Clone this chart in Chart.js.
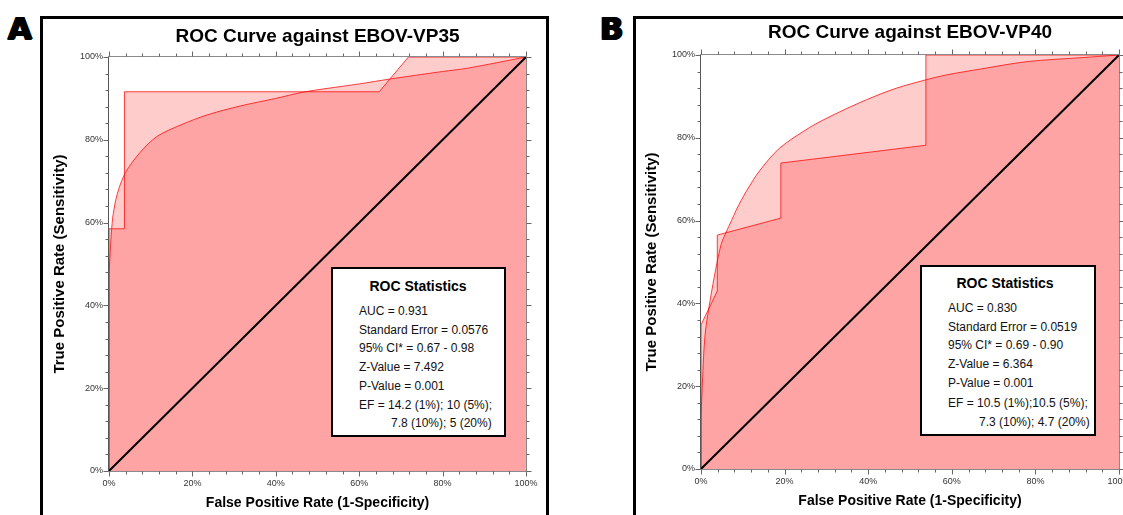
<!DOCTYPE html>
<html><head><meta charset="utf-8">
<script src="https://cdn.jsdelivr.net/npm/chart.js@4.4.1/dist/chart.umd.min.js"></script>
<style>
html,body{margin:0;padding:0;background:#fff;}
body{width:1123px;height:515px;position:relative;overflow:hidden;font-family:"Liberation Sans",Arial,sans-serif;}
canvas{position:absolute;top:0;}
.frame{position:absolute;border:3px solid #000;box-sizing:border-box;}
.letter{position:absolute;font-family:"DejaVu Sans",sans-serif;font-weight:bold;font-size:31px;line-height:32px;color:#000;text-shadow:1px 0 0 #000,2px 0 0 #000,0 1px 0 #000,1px 1px 0 #000;}
.box{position:absolute;border:2px solid #000;background:#fff;box-sizing:border-box;}
.t{position:absolute;font-size:12px;line-height:14px;white-space:nowrap;color:#111;}
.bt{position:absolute;font-size:14px;font-weight:bold;line-height:16px;white-space:nowrap;transform:translateX(-50%);color:#000;}
</style></head>
<body>
<div class="frame" style="left:40px;top:16px;width:509px;height:530px;"></div>
<div class="frame" style="left:633px;top:16px;width:530px;height:530px;"></div>
<div class="letter" style="left:7px;top:12px;">A</div>
<div class="letter" style="left:599px;top:12px;">B</div>
<canvas id="cA" width="560" height="515" style="left:0px;"></canvas>
<canvas id="cB" width="563" height="515" style="left:560px;"></canvas>
<div id="overlay"></div>
<script>
// ---- data ----
const diagX = [0, 100];
const diagY = [0, 100];

const fitA_x = [0, 0, 0.3, 0.6, 1, 2, 3.9, 7.5, 11.5, 17, 23.5, 31.6, 40, 47, 60, 67.5, 80, 86, 100];
const fitA_y = [0, 46, 53, 58, 62, 67, 72, 77, 80.8, 83.5, 86, 88.2, 90, 91.6, 93.5, 94.7, 96.5, 97.3, 100];
const stepA_x = [0, 0, 3.7, 3.7, 64.8, 71.8, 100];
const stepA_y = [0, 58.5, 58.5, 91.6, 91.6, 100, 100];

const fitB_x = [0, 0, 0.4, 0.7, 1.1, 1.8, 2.6, 3.8, 4.9, 6, 7.3, 8.4, 10.8, 14, 18.8, 26, 31.6, 39.6, 46.8, 53.8, 58.8, 66.8, 78, 91.6, 100];
const fitB_y = [0, 11.8, 22.3, 28.7, 33.6, 38.4, 43.2, 49.7, 54.5, 57.2, 60, 62.5, 67, 72, 77.5, 82.5, 85.5, 89.2, 92, 94, 95.2, 96.6, 98.4, 99.4, 100];
const stepB_x = [0, 0, 3.9, 3.9, 19.1, 19.1, 53.8, 53.8, 100];
const stepB_y = [0, 34.8, 43, 56.5, 60.6, 73.9, 78.2, 100, 100];

const majorTickEvery = 20;   // labelled ticks (%)
const minorTickEvery = 4;    // minor ticks (%)

const titleA = 'ROC Curve against EBOV-VP35';
const titleB = 'ROC Curve against EBOV-VP40';
const xAxisTitle = 'False Positive Rate (1-Specificity)';
const yAxisTitle = 'True Positive Rate (Sensitivity)';

const statsTitle = 'ROC Statistics';
const statsA = ['AUC = 0.931', 'Standard Error = 0.0576', '95% CI* = 0.67 - 0.98', 'Z-Value = 7.492', 'P-Value = 0.001', 'EF = 14.2 (1%); 10 (5%);', '7.8 (10%); 5 (20%)'];
const statsB = ['AUC = 0.830', 'Standard Error = 0.0519', '95% CI* = 0.69 - 0.90', 'Z-Value = 6.364', 'P-Value = 0.001', 'EF = 10.5 (1%);10.5 (5%);', '7.3 (10%); 4.7 (20%)'];

// ---- drawing ----
const FAM = '"Liberation Sans", Arial, sans-serif';
const pts = (xs, ys) => xs.map((x, i) => ({x: x, y: ys[i]}));

const axisPlugin = {
  id: 'rocAxes',
  beforeDatasetsDraw(chart) {
    const {ctx, chartArea} = chart;
    const {left, right, top, bottom} = chartArea;
    const sx = chart.scales.x, sy = chart.scales.y;
    const L = Math.round(left) - 0.5, R = Math.round(right) + 0.5;
    const T = Math.round(top) - 0.5, B = Math.round(bottom) + 0.5;
    ctx.save();
    ctx.lineWidth = 1;
    ctx.strokeStyle = '#8a8a8a';
    ctx.beginPath();
    ctx.moveTo(L, T); ctx.lineTo(R, T);
    ctx.moveTo(R, T); ctx.lineTo(R, B);
    ctx.moveTo(L, B); ctx.lineTo(R, B);
    ctx.stroke();
    ctx.strokeStyle = '#555';
    ctx.beginPath();
    ctx.moveTo(L, T); ctx.lineTo(L, B);
    ctx.stroke();
    ctx.strokeStyle = '#666';
    ctx.beginPath();
    sx.ticks.forEach(t => {
      const p = Math.round(sx.getPixelForValue(t.value)) + 0.5;
      const len = (t.value % majorTickEvery === 0) ? 5 : 3;
      ctx.moveTo(p, B); ctx.lineTo(p, B + len);
      ctx.moveTo(p, T); ctx.lineTo(p, T - len);
    });
    sy.ticks.forEach(t => {
      const p = Math.round(sy.getPixelForValue(t.value)) + 0.5;
      const len = (t.value % majorTickEvery === 0) ? 5 : 3;
      ctx.moveTo(L, p); ctx.lineTo(L - len, p);
      ctx.moveTo(R, p); ctx.lineTo(R + len, p);
    });
    ctx.stroke();
    ctx.restore();
  }
};

function buildChart(id, title, fitX, fitY, stepX, stepY, lay) {
  const tickCb = v => (v % majorTickEvery === 0) ? v + '%' : '';
  return new Chart(document.getElementById(id), {
    type: 'scatter',
    data: {
      datasets: [
        {label: 'Random', data: pts(diagX, diagY), showLine: true, borderColor: '#000', borderWidth: 2,
         pointRadius: 0, fill: false, order: 0},
        {label: 'Empirical', data: pts(stepX, stepY), showLine: true, borderColor: 'rgba(255,0,0,0.75)', borderWidth: 1,
         backgroundColor: 'rgba(255,0,0,0.2)', fill: 'origin', pointRadius: 0, tension: 0, order: 1},
        {label: 'Fitted', data: pts(fitX, fitY), showLine: true, borderColor: 'rgba(255,0,0,0.75)', borderWidth: 1,
         backgroundColor: 'rgba(255,0,0,0.2)', fill: 'origin', pointRadius: 0, tension: 0.3, order: 2}
      ]
    },
    options: {
      responsive: false, animation: false, devicePixelRatio: 1,
      layout: {padding: lay.padding},
      plugins: {
        legend: {display: false}, tooltip: {enabled: false},
        title: {display: true, text: title, fullSize: false, color: '#000',
                font: {family: FAM, size: 19, weight: 'bold'},
                padding: {top: lay.tpt, bottom: lay.tpb}}
      },
      scales: {
        x: {
          type: 'linear', min: 0, max: 100, position: 'bottom',
          ticks: {stepSize: minorTickEvery, maxTicksLimit: 30, autoSkip: false, maxRotation: 0, minRotation: 0,
                  padding: 7, color: '#333', font: {family: FAM, size: 9}, callback: tickCb},
          grid: {display: false, drawTicks: false, tickLength: 0},
          border: {display: false},
          title: {display: true, text: xAxisTitle, color: '#000', font: {family: FAM, size: 14, weight: 'bold'},
                  padding: {top: 0, bottom: lay.xpb}},
          afterFit: s => { s.height = lay.xh; s.paddingLeft = 0; s.paddingRight = 0; }
        },
        y: {
          type: 'linear', min: 0, max: 100, position: 'left',
          ticks: {stepSize: minorTickEvery, maxTicksLimit: 30, autoSkip: false,
                  padding: 6, color: '#333', font: {family: FAM, size: 9}, callback: tickCb},
          grid: {display: false, drawTicks: false, tickLength: 0},
          border: {display: false},
          title: {display: true, text: yAxisTitle, color: '#000', font: {family: FAM, size: 15, weight: 'bold'},
                  padding: {top: lay.ypt, bottom: 0}},
          afterFit: s => { s.width = lay.yw; s.paddingTop = 0; s.paddingBottom = 0; }
        }
      }
    },
    plugins: [axisPlugin]
  });
}

buildChart('cA', titleA, fitA_x, fitA_y, stepA_x, stepA_y,
  {padding: {left: 45, top: 20, right: 34, bottom: 2}, tpt: 5, tpb: 9.2, xh: 42, xpb: 1.6, yw: 64, ypt: 6});
buildChart('cB', titleB, fitB_x, fitB_y, stepB_x, stepB_y,
  {padding: {left: 77, top: 16, right: 4, bottom: 4}, tpt: 5, tpb: 11.2, xh: 42, xpb: 1.6, yw: 64, ypt: 6});

// ---- statistics boxes (HTML text) ----
const boxes = [
  {lines: statsA, left: 331, top: 267, w: 175, h: 170, tx: 418, ty: 286, lx: 359, lx2: 391,
   ys: [310.7, 330, 348, 366.7, 385.7, 405, 423.3]},
  {lines: statsB, left: 920, top: 265, w: 176, h: 171, tx: 1005, ty: 282.7, lx: 948, lx2: 979,
   ys: [307.7, 326.7, 345, 364, 382.7, 403.3, 422.3]}
];
const ov = document.getElementById('overlay');
boxes.forEach(b => {
  const d = document.createElement('div');
  d.className = 'box';
  d.style.cssText = `left:${b.left}px;top:${b.top}px;width:${b.w}px;height:${b.h}px;`;
  ov.appendChild(d);
  const tt = document.createElement('div');
  tt.className = 'bt';
  tt.textContent = statsTitle;
  tt.style.left = b.tx + 'px'; tt.style.top = (b.ty - 8) + 'px';
  ov.appendChild(tt);
  b.lines.forEach((s, i) => {
    const e = document.createElement('div');
    e.className = 't';
    e.textContent = s;
    e.style.left = (i === b.lines.length - 1 ? b.lx2 : b.lx) + 'px';
    e.style.top = (b.ys[i] - 7) + 'px';
    ov.appendChild(e);
  });
});
</script>
</body></html>
